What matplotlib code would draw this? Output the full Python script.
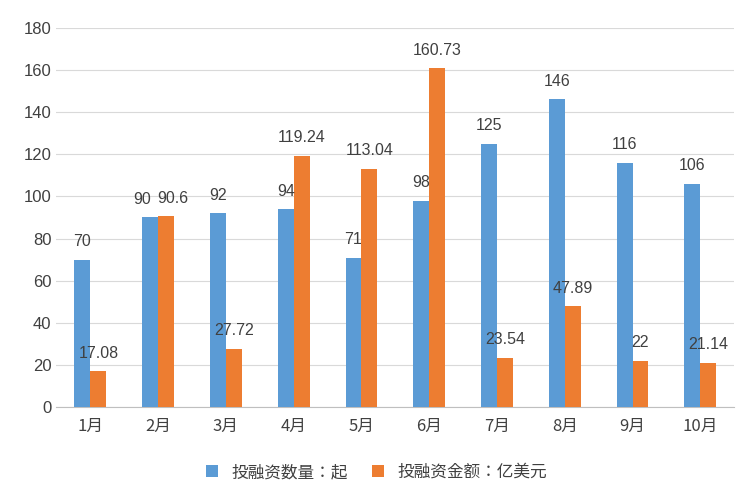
import numpy as np
import matplotlib.pyplot as plt

plt.rcParams["font.family"] = ["Noto Sans CJK SC", "Noto Sans CJK JP", "DejaVu Sans"]

months = ["1月", "2月", "3月", "4月", "5月", "6月", "7月", "8月", "9月", "10月"]
deal_count = [70, 90, 92, 94, 71, 98, 125, 146, 116, 106]
deal_amount = [17.08, 90.6, 27.72, 119.24, 113.04, 160.73, 23.54, 47.89, 22, 21.14]
count_labels = ["70", "90", "92", "94", "71", "98", "125", "146", "116", "106"]
amount_labels = ["17.08", "90.6", "27.72", "119.24", "113.04", "160.73", "23.54", "47.89", "22", "21.14"]

blue = "#5B9BD5"
orange = "#ED7D31"

fig = plt.figure(figsize=(7.53, 4.96), dpi=100)
ax = fig.add_axes([0.075, 0.179, 0.90, 0.765])

x = np.arange(len(months))
w = 0.235
b1 = ax.bar(x - w / 2, deal_count, w, color=blue, label="投融资数量：起", zorder=3)
b2 = ax.bar(x + w / 2, deal_amount, w, color=orange, label="投融资金额：亿美元", zorder=3)

for i in range(len(months)):
    dx = -0.12 if i == 1 else 0
    ax.text(x[i] - w / 2 + dx, deal_count[i] + 5, count_labels[i], ha="center", va="bottom",
            fontsize=11.5, color="#404040", fontfamily="Liberation Sans")
    dx = 0.1 if i == 1 else 0
    ax.text(x[i] + w / 2 + dx, deal_amount[i] + 5, amount_labels[i], ha="center", va="bottom",
            fontsize=11.5, color="#404040", fontfamily="Liberation Sans")

ax.set_xlim(-0.5, len(months) - 0.5)
ax.set_ylim(0, 180)
ax.set_yticks(range(0, 181, 20))
ax.set_yticklabels([str(v) for v in range(0, 181, 20)], fontfamily="Liberation Sans")
ax.set_xticks(x)
ax.set_xticklabels(months)
ax.tick_params(axis="both", length=0, labelsize=12, colors="#404040")
ax.tick_params(axis="x", pad=8)
ax.grid(axis="y", color="#D9D9D9", linewidth=0.8, zorder=0)
for s in ["top", "right", "left"]:
    ax.spines[s].set_visible(False)
ax.spines["bottom"].set_color("#BFBFBF")

fig.legend(handles=[b1, b2], loc="lower center", ncol=2, frameon=False,
           fontsize=12, bbox_to_anchor=(0.5, 0.0), handlelength=0.7, handleheight=0.7,
           columnspacing=1.5, labelcolor="#404040")

fig.savefig("out.png", dpi=100)
